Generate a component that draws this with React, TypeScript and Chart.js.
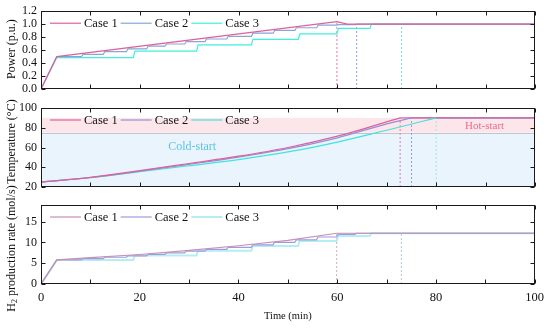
import React, { useEffect, useRef } from 'react';
import { Chart, registerables } from 'chart.js';
Chart.register(...registerables);

const W = 550;
const H = 328;
const FONT = '"Liberation Serif", "Times New Roman", serif';

// ---------------- shared time axis ----------------
const timeMax = 100;
const timeLabels = [0, 20, 40, 60, 80, 100];
const timeMinorTicks = [0, 10, 20, 30, 40, 50, 60, 70, 80, 90, 100];
const seriesNames = ['Case 1', 'Case 2', 'Case 3'];

// ---------------- Panel 1: power (p.u.) ----------------
const powerTicks = [0, 0.2, 0.4, 0.6, 0.8, 1.0, 1.2];
const powerCase1Time = [0, 3.2, 59.9, 62.0, 100];
const powerCase1Value = [0, 0.5, 1.04, 1.0, 1.0];
const powerCase2StepTime = [3.2, 8.2, 12.6, 17.3, 21.4, 25.1, 29.1, 33.2, 37.6, 42.6, 47.0, 51.4, 55.8, 59.9, 63.6];
const powerCase2StepValue = [0.5, 0.533, 0.575, 0.62, 0.66, 0.694, 0.732, 0.771, 0.813, 0.861, 0.903, 0.945, 0.985, 0.993, 1.0];
const powerCase3StepTime = [3.2, 18.7, 31.5, 42.6, 52.1, 59.9, 66.6];
const powerCase3StepValue = [0.485, 0.585, 0.68, 0.765, 0.85, 0.935, 1.0];
const powerMarkTime = [59.9, 63.9, 73.0];
const powerMarkValue = [1.04, 1.0, 1.0];

// ---------------- Panel 2: temperature (°C) ----------------
const tempTicks = [20, 40, 60, 80, 100];
const tempCase1Time = [0, 10, 20, 30, 40, 50, 60, 72.7];
const tempCase1Value = [25, 29.8, 36.5, 43.8, 51.2, 60, 71.5, 90];
const tempCase2Time = [0, 10, 20, 30, 40, 50, 60, 70, 75];
const tempCase2Value = [25, 29.6, 36, 43, 50.3, 58.8, 69.8, 84, 90];
const tempCase3Time = [0, 10, 20, 30, 40, 50, 60, 70, 80];
const tempCase3Value = [25, 29.4, 35.5, 41.5, 47.8, 55.5, 65.5, 77.5, 90];
const tempHold = 90;
const tempMarkTime = [72.7, 75.0, 80.0];
const hotBand = [75, 90];
const coldBand = [20, 75];
const coldLabel = { text: 'Cold-start', t: 30.6, v: 60.5 };
const hotLabel = { text: 'Hot-start', t: 89.8, v: 82 };

// ---------------- Panel 3: H2 production rate (mol/s) ----------------
const h2Ticks = [0, 5, 10, 15];
const h2Max = 19;
const h2Case1Time = [0, 3.2, 10, 20, 30, 40, 50, 59.9, 100];
const h2Case1Value = [0, 5.8, 6.35, 7.1, 8.1, 9.2, 10.5, 12.2, 12.2];
const h2Case2StepTime = [3.2, 8.2, 12.6, 17.3, 21.4, 25.1, 29.1, 33.2, 37.6, 42.6, 47.0, 51.4, 55.8, 59.9, 63.6];
const h2Case2StepValue = [5.8, 6.1, 6.43, 6.78, 7.12, 7.5, 7.9, 8.33, 8.82, 9.42, 9.99, 10.6, 11.3, 11.95, 12.2];
const h2Case3StepTime = [3.2, 18.7, 31.5, 42.6, 52.1, 59.9, 66.6];
const h2Case3StepValue = [5.75, 6.85, 8.0, 9.15, 10.35, 11.55, 12.2];
const h2MarkTime = [59.9, 73.0];
const h2MarkValue = [12.2, 12.2];

type Pt = { x: number; y: number };
const linePts = (ts: number[], vs: number[]): Pt[] => ts.map((t, i) => ({ x: t, y: vs[i] }));
function stepPts(ts: number[], vs: number[], rise = 0.3): Pt[] {
  const pts: Pt[] = [{ x: 0, y: 0 }];
  ts.forEach((t, i) => {
    if (i === 0) pts.push({ x: t, y: vs[0] });
    else {
      pts.push({ x: t, y: vs[i - 1] });
      pts.push({ x: t + rise, y: vs[i] });
    }
  });
  pts.push({ x: timeMax, y: vs[vs.length - 1] });
  return pts;
}
const markDs = (t: number, bottom: number, top: number, color: string) => ({
  data: [{ x: t, y: bottom }, { x: t, y: top }],
  borderColor: color,
  borderWidth: 1,
  borderDash: [2, 2],
  pointRadius: 0,
});
const lineDs = (data: Pt[], color: string, width = 1.2, smooth = false) => ({
  data,
  borderColor: color,
  borderWidth: width,
  pointRadius: 0,
  tension: 0,
  cubicInterpolationMode: smooth ? 'monotone' : 'default',
});

interface PanelCfg {
  top: number;
  bottom: number;
  yMin: number;
  yMax: number;
  yTicks: number[];
  yFmt: (v: number) => string;
  title: string;
  sub?: boolean;
  titleDy: number;
  showX: boolean;
  legendColors: string[];
  datasets: any[];
  bands?: { from: number; to: number; color: string }[];
  bandLine?: number;
  notes?: { text: string; t: number; v: number; color: string; size: number }[];
}

const P1 = ['#e0609a', '#88a6d6', '#3ff0e0'];
const P2 = ['#e0609a', '#9090dc', '#40e4dc'];
const P3 = ['#c890b4', '#9c9ce0', '#b4eef2'];

const panels: PanelCfg[] = [
  {
    top: 11, bottom: 89, yMin: 0, yMax: 1.2, yTicks: powerTicks, yFmt: (v) => v.toFixed(1),
    title: 'Power (p.u.)', titleDy: -1, showX: false, legendColors: P1,
    datasets: [
      lineDs(linePts(powerCase1Time, powerCase1Value), P1[0]),
      lineDs(stepPts(powerCase2StepTime, powerCase2StepValue), P1[1]),
      lineDs(stepPts(powerCase3StepTime, powerCase3StepValue), P1[2]),
      markDs(powerMarkTime[0], 0, powerMarkValue[0], '#e878a8'),
      markDs(powerMarkTime[1], 0, powerMarkValue[1], '#8fa0d4'),
      markDs(powerMarkTime[2], 0, powerMarkValue[2], '#70dce4'),
    ],
  },
  {
    top: 108, bottom: 187, yMin: 20, yMax: 100, yTicks: tempTicks, yFmt: (v) => String(v),
    title: 'Temperature (°C)', titleDy: -6, showX: false, legendColors: P2,
    bands: [
      { from: hotBand[0], to: hotBand[1], color: '#fce6ea' },
      { from: coldBand[0], to: coldBand[1], color: '#eaf4fc' },
    ],
    bandLine: hotBand[0],
    notes: [
      { text: coldLabel.text, t: coldLabel.t, v: coldLabel.v, color: '#5cc4e4', size: 12 },
      { text: hotLabel.text, t: hotLabel.t, v: hotLabel.v, color: '#ec6a8a', size: 11 },
    ],
    datasets: [
      lineDs(linePts(tempCase1Time, tempCase1Value), P2[0], 1.2, true),
      lineDs(linePts(tempCase2Time, tempCase2Value), P2[1], 1.2, true),
      lineDs(linePts(tempCase3Time, tempCase3Value), P2[2], 1.2, true),
      lineDs([{ x: tempCase1Time[tempCase1Time.length - 1], y: tempHold }, { x: timeMax, y: tempHold }], P2[0]),
      lineDs([{ x: tempCase2Time[tempCase2Time.length - 1], y: tempHold }, { x: timeMax, y: tempHold }], P2[1]),
      lineDs([{ x: tempCase3Time[tempCase3Time.length - 1], y: tempHold }, { x: timeMax, y: tempHold }], P2[2]),
      markDs(tempMarkTime[0], 20, tempHold, '#e878a8'),
      markDs(tempMarkTime[1], 20, tempHold, '#9a9ad8'),
      markDs(tempMarkTime[2], 20, tempHold, '#9ce8e0'),
    ],
  },
  {
    top: 205, bottom: 284, yMin: 0, yMax: h2Max, yTicks: h2Ticks, yFmt: (v) => String(v),
    title: ' production rate (mol/s)', sub: true, titleDy: 4, showX: true, legendColors: P3,
    datasets: [
      lineDs(linePts(h2Case1Time, h2Case1Value), P3[0]),
      lineDs(stepPts(h2Case2StepTime, h2Case2StepValue), P3[1]),
      lineDs(stepPts(h2Case3StepTime, h2Case3StepValue), P3[2], 2),
      markDs(h2MarkTime[0], 0, h2MarkValue[0], '#d4aac0'),
      markDs(h2MarkTime[1], 0, h2MarkValue[1], '#b0ccd8'),
    ],
  },
];

function makePlugin(cfg: PanelCfg) {
  return {
    id: 'panelDecor',
    beforeDatasetsDraw(chart: any) {
      const { ctx, chartArea, scales } = chart;
      const { left, right } = chartArea;
      const y = scales.y;
      const x = scales.x;
      ctx.save();
      (cfg.bands || []).forEach((b) => {
        const y1 = y.getPixelForValue(b.to);
        const y2 = y.getPixelForValue(b.from);
        ctx.fillStyle = b.color;
        ctx.fillRect(left, y1, right - left, y2 - y1);
      });
      if (cfg.bandLine !== undefined) {
        const py = Math.round(y.getPixelForValue(cfg.bandLine)) + 0.5;
        ctx.strokeStyle = '#c4c4cc';
        ctx.lineWidth = 1;
        ctx.beginPath();
        ctx.moveTo(left, py);
        ctx.lineTo(right, py);
        ctx.stroke();
      }
      (cfg.notes || []).forEach((n) => {
        ctx.font = `${n.size}px ${FONT}`;
        ctx.fillStyle = n.color;
        ctx.textAlign = 'center';
        ctx.textBaseline = 'middle';
        ctx.fillText(n.text, x.getPixelForValue(n.t), y.getPixelForValue(n.v));
      });
      ctx.restore();
    },
    afterDraw(chart: any) {
      const { ctx, chartArea, scales } = chart;
      const { left, right, top, bottom } = chartArea;
      const x = scales.x;
      const y = scales.y;
      ctx.save();
      ctx.strokeStyle = '#1a1a1a';
      ctx.lineWidth = 1;
      const L = Math.round(left) + 0.5;
      const R = Math.round(right) - 0.5;
      const T = Math.round(top) + 0.5;
      const B = Math.round(bottom) - 0.5;
      ctx.strokeRect(L, T, R - L, B - T);
      ctx.beginPath();
      const tl = 4;
      timeMinorTicks.forEach((t) => {
        const px = Math.round(x.getPixelForValue(t)) + 0.5;
        ctx.moveTo(px, B);
        ctx.lineTo(px, B - tl);
        ctx.moveTo(px, T);
        ctx.lineTo(px, T + tl);
      });
      cfg.yTicks.forEach((v) => {
        const py = Math.round(y.getPixelForValue(v)) + 0.5;
        ctx.moveTo(L, py);
        ctx.lineTo(L + tl, py);
        ctx.moveTo(R, py);
        ctx.lineTo(R - tl, py);
      });
      ctx.stroke();

      // legend
      ctx.font = `12.5px ${FONT}`;
      ctx.textBaseline = 'middle';
      ctx.textAlign = 'left';
      let lx = left + 9;
      const ly = top + 12;
      seriesNames.forEach((name, i) => {
        ctx.strokeStyle = cfg.legendColors[i];
        ctx.lineWidth = i === 2 && cfg.sub ? 2 : 1.2;
        ctx.beginPath();
        ctx.moveTo(lx, ly);
        ctx.lineTo(lx + 31, ly);
        ctx.stroke();
        ctx.fillStyle = '#111';
        ctx.fillText(name, lx + 34, ly + 0.5);
        lx += 34 + ctx.measureText(name).width + 3;
      });

      // y title
      ctx.fillStyle = '#111';
      ctx.save();
      ctx.translate(12, (top + bottom) / 2 + cfg.titleDy);
      ctx.rotate(-Math.PI / 2);
      ctx.textBaseline = 'middle';
      ctx.font = `12px ${FONT}`;
      if (cfg.sub) {
        const wH = ctx.measureText('H').width;
        ctx.font = `8px ${FONT}`;
        const w2 = ctx.measureText('2').width;
        ctx.font = `12px ${FONT}`;
        const wR = ctx.measureText(cfg.title).width;
        const sx = -(wH + w2 + wR) / 2;
        ctx.textAlign = 'left';
        ctx.fillText('H', sx, 0);
        ctx.font = `8px ${FONT}`;
        ctx.fillText('2', sx + wH, 3);
        ctx.font = `12px ${FONT}`;
        ctx.fillText(cfg.title, sx + wH + w2, 0);
      } else {
        ctx.textAlign = 'center';
        ctx.fillText(cfg.title, 0, 0);
      }
      ctx.restore();

      if (cfg.showX) {
        ctx.font = `10.5px ${FONT}`;
        ctx.textAlign = 'center';
        ctx.textBaseline = 'middle';
        ctx.fillText('Time (min)', (left + right) / 2, 316.5);
      }
      ctx.restore();
    },
  };
}

function buildConfig(cfg: PanelCfg): any {
  const xScale: any = {
    type: 'linear',
    min: 0,
    max: timeMax,
    display: cfg.showX,
    grid: { display: false, drawTicks: false },
    border: { display: false },
    ticks: { font: { family: FONT, size: 12.5 }, color: '#111', padding: 6, maxRotation: 0, autoSkip: false },
    afterBuildTicks: (s: any) => { s.ticks = timeLabels.map((v) => ({ value: v })); },
  };
  if (cfg.showX) xScale.afterFit = (s: any) => { s.height = H - cfg.bottom; };
  return {
    type: 'line',
    data: { datasets: cfg.datasets },
    plugins: [makePlugin(cfg)],
    options: {
      animation: false,
      responsive: false,
      maintainAspectRatio: false,
      parsing: false,
      layout: { padding: { left: 0, right: 15, top: cfg.top, bottom: cfg.showX ? 0 : H - cfg.bottom } },
      plugins: { legend: { display: false }, tooltip: { enabled: false } },
      scales: {
        x: xScale,
        y: {
          type: 'linear',
          min: cfg.yMin,
          max: cfg.yMax,
          grid: { display: false, drawTicks: false },
          border: { display: false },
          ticks: {
            font: { family: FONT, size: 12 },
            color: '#111',
            padding: 4,
            autoSkip: false,
            callback: (v: any) => cfg.yFmt(Number(v)),
          },
          afterBuildTicks: (s: any) => { s.ticks = cfg.yTicks.map((v) => ({ value: v })); },
          afterFit: (s: any) => { s.width = 41; },
        },
      },
    },
  };
}

function Panel({ cfg }: { cfg: PanelCfg }) {
  const ref = useRef<HTMLCanvasElement>(null);
  useEffect(() => {
    const chart = new Chart(ref.current as HTMLCanvasElement, buildConfig(cfg));
    return () => chart.destroy();
  }, [cfg]);
  return (
    <canvas
      ref={ref}
      width={W}
      height={H}
      style={{ position: 'absolute', left: 0, top: 0, width: W, height: H }}
    />
  );
}

export default function App() {
  return (
    <div style={{ position: 'fixed', left: 0, top: 0, width: W, height: H, background: '#fff', overflow: 'hidden' }}>
      {panels.map((p, i) => (
        <Panel key={i} cfg={p} />
      ))}
    </div>
  );
}
